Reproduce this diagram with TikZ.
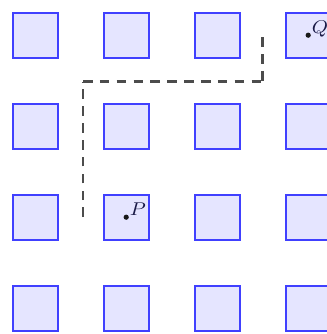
\documentclass[tikz,border=0pt]{standalone}
\begin{document}
\begin{tikzpicture}[x=1pt,y=-1pt,
  cell/.style={draw=blue!75, fill=blue!10, line width=2pt, minimum size=45pt, inner sep=0pt, anchor=center},
  route/.style={draw=black!70, line width=2.6pt, dash pattern=on 9.6pt off 7.25pt},
  pt/.style={circle, fill=black!90, inner sep=0pt, minimum size=5.2pt},
  lab/.style={anchor=base west, inner sep=0pt, text={rgb,255:red,25;green,25;blue,70}}]
\useasboundingbox (0,0) rectangle (326,334);
\foreach \i in {0,...,3}{
  \foreach \j in {0,...,3}{
    \node[cell] (s\i\j) at (35.2+91*\i, 35.2+91*\j) {};
  }
}
\coordinate (r0) at (83,217);
\coordinate (r1) at (83,81.7);
\coordinate (r2) at (262.6,81.7);
\coordinate (r3) at (262.6,37.3);
\draw[route] (r0) -- (r1);
\draw[route] (r1) -- (r2);
\draw[route] (r3) -- (r2);
\node[pt] (p) at (s12.center) {};
\node[pt] (q) at (s30.center) {};
\node[lab] (pl) at ([xshift=3.5pt,yshift=1.5pt]p.center) {\scalebox{2.05}[1.85]{$P$}};
\node[lab] (ql) at ([xshift=3.5pt,yshift=1.5pt]q.center) {\scalebox{2.05}[1.85]{$Q$}};
\end{tikzpicture}
\end{document}
